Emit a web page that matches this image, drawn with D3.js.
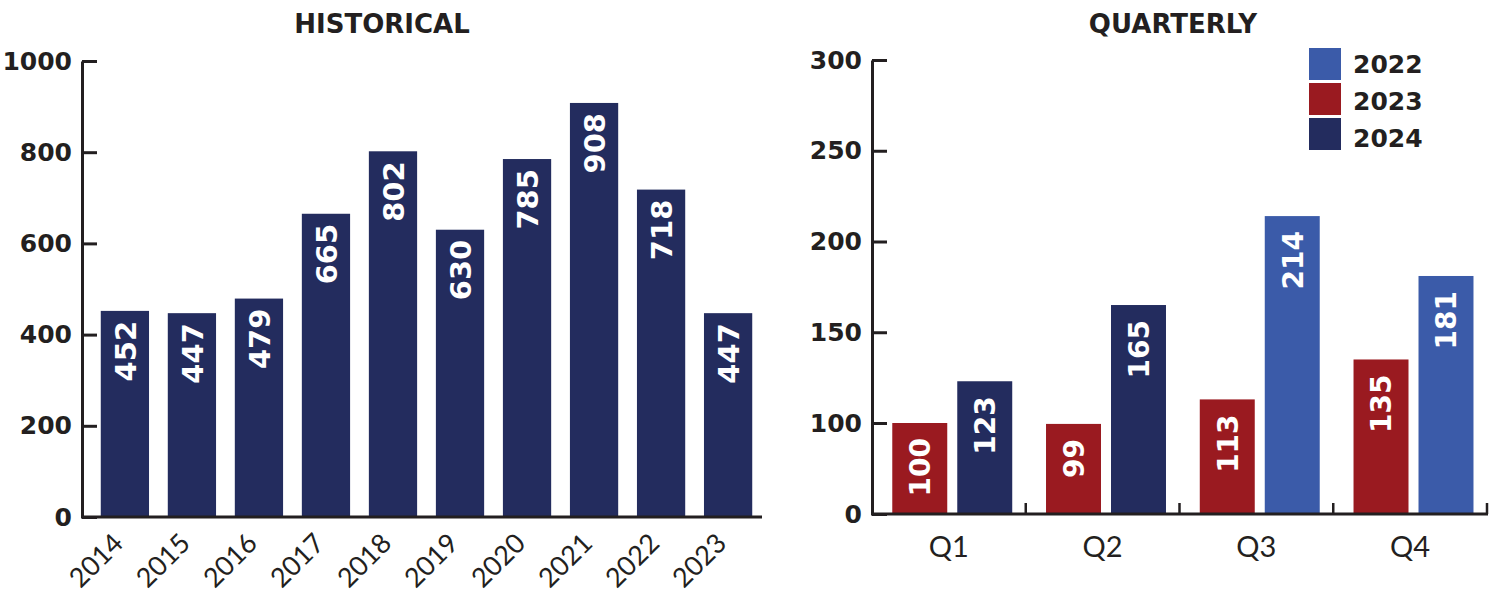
<!DOCTYPE html>
<html>
<head>
<meta charset="utf-8">
<script src="https://cdn.jsdelivr.net/npm/d3@7"></script>
<style>
  html, body { margin: 0; padding: 0; background: #ffffff; }
  svg { display: block; font-family: Lato, "Open Sans", sans-serif; }
</style>
</head>
<body>
<svg id="chart" width="1494" height="595"></svg>
<script>
// Historical yearly totals
const years = ["2014", "2015", "2016", "2017", "2018", "2019", "2020", "2021", "2022", "2023"];
const yearlyTotals = [452, 447, 479, 665, 802, 630, 785, 908, 718, 447];
const historicalTicks = [0, 200, 400, 600, 800, 1000];

// Quarterly totals by year (null where the year is not shown for that quarter)
const quarters = ["Q1", "Q2", "Q3", "Q4"];
const q2022 = [null, null, 214, 181];
const q2023 = [100, 99, 113, 135];
const q2024 = [123, 165, null, null];
const quarterlyTicks = [0, 100, 150, 200, 250, 300];
const legendYears = ["2022", "2023", "2024"];

const INK = "#231f20";
const NAVY = "#232c5e";
const RED = "#9a1a20";
const BLUE = "#3b5ba9";
const yearColor = { "2022": BLUE, "2023": RED, "2024": NAVY };
const BOLD_FONT = "'DejaVu Sans', sans-serif";
const LIGHT_FONT = "Lato, sans-serif";

const svg = d3.select("#chart");

function styleAxis(g) {
  g.selectAll(".domain").attr("stroke", INK).attr("stroke-width", 3);
  g.selectAll(".tick line").attr("stroke", INK).attr("stroke-width", 3);
  g.selectAll(".tick text")
    .attr("fill", INK)
    .attr("font-size", 25)
    .attr("font-weight", 700)
    .attr("font-family", BOLD_FONT);
}

// ---------- HISTORICAL ----------
const hx = d3.scaleBand().domain(years).range([82, 771]).paddingInner(0.28).paddingOuter(0.28);
const hy = d3.scaleLinear().domain([0, 1000]).range([517, 61]);

svg.append("text")
  .attr("x", 382).attr("y", 33)
  .attr("text-anchor", "middle")
  .attr("font-family", BOLD_FONT)
  .attr("font-size", 26).attr("font-weight", 700).attr("fill", INK)
  .text("HISTORICAL");

const hist = years.map((y, i) => ({ year: y, value: yearlyTotals[i] }));

svg.append("g").selectAll("rect")
  .data(hist).join("rect")
  .attr("x", d => hx(d.year))
  .attr("width", hx.bandwidth())
  .attr("y", d => hy(d.value))
  .attr("height", d => hy(0) - hy(d.value))
  .attr("fill", NAVY);

svg.append("g").selectAll("text")
  .data(hist).join("text")
  .attr("transform", d => `translate(${hx(d.year) + hx.bandwidth() / 2},${hy(d.value) + 10}) rotate(-90)`)
  .attr("text-anchor", "end")
  .attr("dy", "0.37em")
  .attr("fill", "#ffffff")
  .attr("font-family", BOLD_FONT)
  .attr("font-size", 29).attr("font-weight", 700)
  .text(d => d.value);

const hyAxis = svg.append("g")
  .attr("transform", "translate(82,0)")
  .call(d3.axisLeft(hy).tickValues(historicalTicks).tickFormat(d3.format("d"))
    .tickSize(-15).tickSizeOuter(0).tickPadding(10));
styleAxis(hyAxis);

// baseline
svg.append("line")
  .attr("x1", 81).attr("x2", 762)
  .attr("y1", hy(0)).attr("y2", hy(0))
  .attr("stroke", INK).attr("stroke-width", 3);

svg.append("g").selectAll("text")
  .data(years).join("text")
  .attr("transform", d => `translate(${hx(d) + hx.bandwidth() / 2},${hy(0) + 28}) rotate(-45)`)
  .attr("text-anchor", "end")
  .attr("fill", INK)
  .attr("font-family", LIGHT_FONT)
  .attr("font-size", 27)
  .text(d => d);

// ---------- QUARTERLY ----------
const qx0 = d3.scaleBand().domain(quarters).range([872, 1487]).padding(0);
const qx1 = d3.scaleBand().domain(["left", "right"]).range([0, qx0.bandwidth()])
  .paddingInner(0.154).paddingOuter(0.26).align(0.6);
// polylinear scale: the first segment spans 0–100, the rest climbs in steps of 50
const qy = d3.scaleLinear().domain([0, 100, 300]).range([514, 423, 60]);

svg.append("text")
  .attr("x", 1173).attr("y", 33)
  .attr("text-anchor", "middle")
  .attr("font-family", BOLD_FONT)
  .attr("font-size", 26).attr("font-weight", 700).attr("fill", INK)
  .text("QUARTERLY");

const qBars = [];
quarters.forEach((q, i) => {
  if (q2023[i] != null) qBars.push({ quarter: q, year: "2023", slot: "left", value: q2023[i] });
  if (q2024[i] != null) qBars.push({ quarter: q, year: "2024", slot: "right", value: q2024[i] });
  if (q2022[i] != null) qBars.push({ quarter: q, year: "2022", slot: "right", value: q2022[i] });
});

svg.append("g").selectAll("rect")
  .data(qBars).join("rect")
  .attr("x", d => qx0(d.quarter) + qx1(d.slot))
  .attr("width", qx1.bandwidth())
  .attr("y", d => qy(d.value))
  .attr("height", d => qy(0) - qy(d.value))
  .attr("fill", d => yearColor[d.year]);

svg.append("g").selectAll("text")
  .data(qBars).join("text")
  .attr("transform", d => `translate(${qx0(d.quarter) + qx1(d.slot) + qx1.bandwidth() / 2},${qy(d.value) + 15}) rotate(-90)`)
  .attr("text-anchor", "end")
  .attr("dy", "0.37em")
  .attr("fill", "#ffffff")
  .attr("font-family", BOLD_FONT)
  .attr("font-size", 28).attr("font-weight", 700)
  .text(d => d.value);

const qyAxis = svg.append("g")
  .attr("transform", "translate(872,0)")
  .call(d3.axisLeft(qy).tickValues(quarterlyTicks).tickFormat(d3.format("d"))
    .tickSize(-15).tickSizeOuter(0).tickPadding(10));
styleAxis(qyAxis);

// baseline with separators between quarters
svg.append("line")
  .attr("x1", 871).attr("x2", 1488)
  .attr("y1", qy(0)).attr("y2", qy(0))
  .attr("stroke", INK).attr("stroke-width", 3);

svg.append("g").selectAll("line")
  .data(quarters).join("line")
  .attr("x1", d => qx0(d) + qx0.bandwidth()).attr("x2", d => qx0(d) + qx0.bandwidth())
  .attr("y1", qy(0)).attr("y2", qy(0) - 11)
  .attr("stroke", INK).attr("stroke-width", 2.5);

svg.append("g").selectAll("text")
  .data(quarters).join("text")
  .attr("x", d => qx0(d) + qx0.bandwidth() / 2)
  .attr("y", 557)
  .attr("text-anchor", "middle")
  .attr("fill", INK)
  .attr("font-family", LIGHT_FONT)
  .attr("font-size", 29)
  .text(d => d);

// legend
const legend = svg.append("g").attr("transform", "translate(1309,48)");
const lg = legend.selectAll("g").data(legendYears).join("g")
  .attr("transform", (d, i) => `translate(0,${i * 35})`);
lg.append("rect").attr("width", 32).attr("height", 32).attr("fill", d => yearColor[d]);
lg.append("text")
  .attr("x", 44).attr("y", (d, i) => 25 + i * 2)
  .attr("fill", INK)
  .attr("font-family", BOLD_FONT)
  .attr("font-size", 25).attr("font-weight", 700)
  .text(d => d);
</script>
</body>
</html>
